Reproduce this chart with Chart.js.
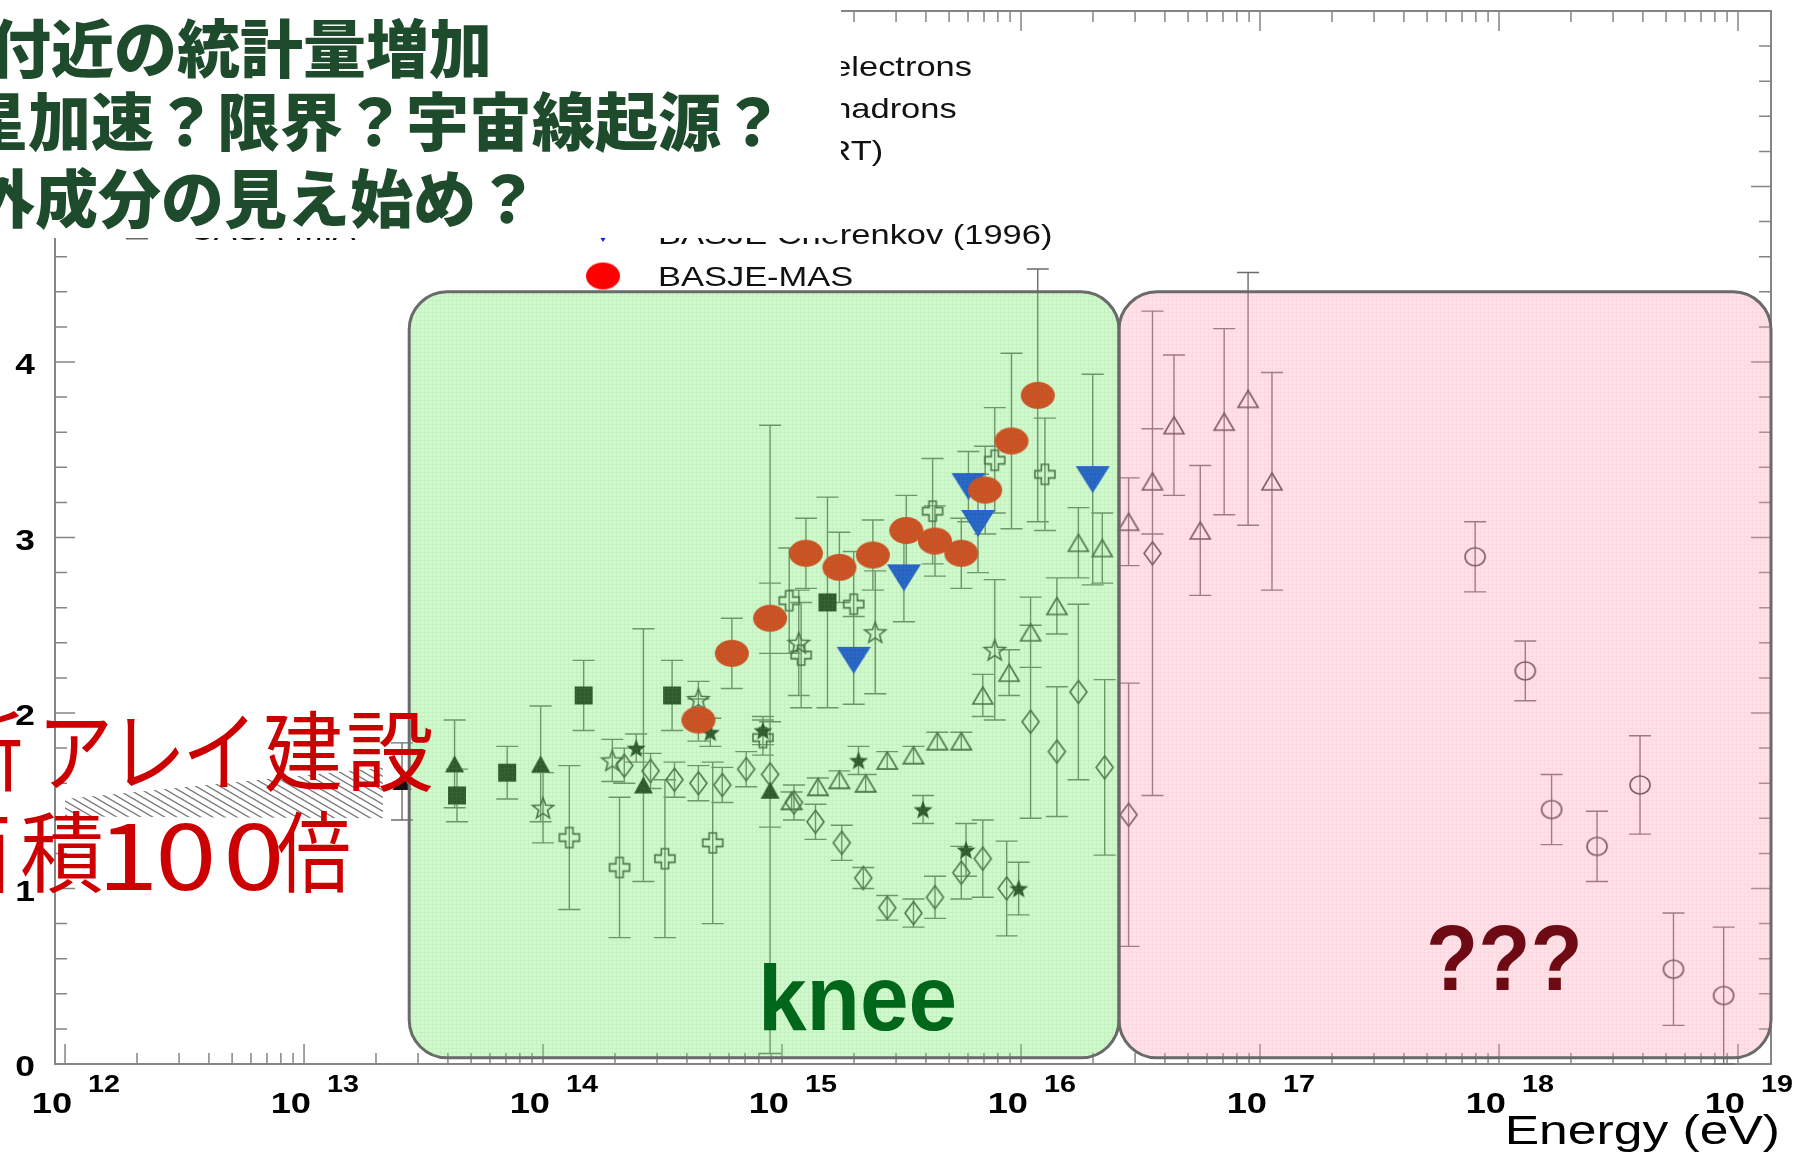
<!DOCTYPE html>
<html>
<head>
<meta charset="utf-8">
<script src="https://cdn.jsdelivr.net/npm/chart.js@4.4.1/dist/chart.umd.min.js"></script>
<style>
  html, body { margin: 0; padding: 0; background: #fff; }
  canvas { display: block; }
</style>
</head>
<body>
<canvas id="lnA" width="1794" height="1158"></canvas>
<script>
// x = log10(E / eV), y = <ln A>

// BASJE-MAS
const masE   = [14.65, 14.79, 14.95, 15.10, 15.24, 15.38, 15.52, 15.64, 15.75, 15.85, 15.96, 16.07];
const masLnA = [1.96, 2.34, 2.54, 2.91, 2.83, 2.90, 3.04, 2.98, 2.91, 3.27, 3.55, 3.81];
const masErr = [0.12, 0.2, 0.2, 0.2, 0.2, 0.2, 0.2, 0.2, 0.2, 0.25, 0.5, 0.72];

// BASJE Cherenkov (1996)
const cherE   = [15.30, 15.51, 15.78, 15.82, 16.30];
const cherLnA = [2.30, 2.77, 3.29, 3.08, 3.33];
const cherErr = [0.25, 0.25, 0.2, 0.28, 0.6];

const jaceeE   = [13.64, 13.85, 14.17, 14.54, 15.19];
const jaceeLnA = [1.53, 1.66, 2.10, 2.10, 2.63];
const jaceeErr = [0.15, 0.15, 0.2, 0.2, 0.6];

const runjobE     = [13.41, 13.63, 13.99, 14.42, 14.95];
const runjobLnA   = [1.61, 1.71, 1.71, 1.59, 1.56];
const runjobErrUp = [0.22, 0.25, 0.33, 0.89, 2.08];
const runjobErrDn = [0.22, 0.25, 0.33, 0.55, 1.5];

const diceE   = [14.11, 14.32, 14.51, 14.71, 14.92, 15.03, 15.08, 15.30, 15.63, 15.89, 16.10];
const diceLnA = [1.29, 1.12, 1.17, 1.26, 1.86, 2.64, 2.33, 2.62, 3.15, 3.44, 3.36];
const diceErr = [0.41, 0.4, 0.45, 0.46, 0.1, 0.3, 0.3, 0.3, 0.3, 0.3, 0.32];

const hegraE   = [14.00, 14.29, 14.65, 15.07, 15.39, 15.89];
const hegraLnA = [1.46, 1.73, 2.08, 2.40, 2.46, 2.36];
const hegraErr = [0.2, 0.12, 0.1, 0.3, 0.35, 0.4];

const hadE   = [14.39, 14.70, 14.92, 15.32, 15.59, 15.77, 15.99];
const hadLnA = [1.80, 1.89, 1.90, 1.73, 1.45, 1.22, 1.00];
const hadErr = [0.08, 0.08, 0.08, 0.08, 0.08, 0.15, 0.15];

const eleE   = [14.34, 14.45, 14.55, 14.65, 14.75, 14.85, 14.95, 15.05, 15.14, 15.25, 15.34, 15.44,
                15.55, 15.64, 15.75, 15.84, 15.94, 16.04, 16.15, 16.24, 16.35, 16.45, 16.55];
const eleLnA = [1.70, 1.67, 1.62, 1.60, 1.59, 1.68, 1.65, 1.49, 1.38, 1.26, 1.06, 0.89,
                0.86, 0.95, 1.09, 1.17, 1.00, 1.95, 1.78, 2.12, 1.69, 1.42, 2.91];
const eleErr = [0.1, 0.1, 0.1, 0.1, 0.1, 0.1, 0.3, 0.1, 0.1, 0.1, 0.06, 0.07,
                0.08, 0.12, 0.15, 0.22, 0.27, 0.55, 0.37, 0.5, 0.5, 0.75, 1.38];

const casaE   = [15.04, 15.15, 15.24, 15.35, 15.44, 15.55, 15.65, 15.75, 15.84, 15.95, 16.04,
                 16.15, 16.24, 16.34, 16.45, 16.55, 16.64, 16.75, 16.85, 16.95, 17.05];
const casaLnA = [1.50, 1.58, 1.62, 1.60, 1.73, 1.76, 1.84, 1.84, 2.10, 2.23, 2.46,
                 2.61, 2.97, 2.94, 3.09, 3.32, 3.64, 3.04, 3.66, 3.79, 3.32];
const casaErr = [0.05, 0.05, 0.05, 0.05, 0.05, 0.05, 0.05, 0.05, 0.12, 0.13, 0.2,
                 0.16, 0.2, 0.2, 0.25, 0.3, 0.4, 0.37, 0.53, 0.72, 0.62];

const flysE   = [17.90, 18.11, 18.22, 18.41, 18.59, 18.73, 18.94];
const flysLnA = [2.89, 2.24, 1.45, 1.24, 1.59, 0.54, 0.39];
const flysErr = [0.2, 0.17, 0.2, 0.2, 0.28, 0.32, 0.39];

// direct measurements band
const bandE  = [12.0, 13.33];
const bandHi = [1.51, 1.69];
const bandLo = [1.41, 1.40];

const decades = [12, 13, 14, 15, 16, 17, 18, 19];
const lnATicks = [0, 1, 2, 3, 4, 5, 6];

function pts(xs, ys) { return xs.map((x, i) => ({ x, y: ys[i] })); }

// ---- marker images ----
function mk(w, h, paint) {
  const c = document.createElement('canvas');
  c.width = w + 4; c.height = h + 4;
  const g = c.getContext('2d');
  g.translate(2, 2);
  g.lineWidth = 1.6;
  g.strokeStyle = '#3c3c3c';
  g.fillStyle = '#111';
  paint(g, w, h);
  return c;
}
function poly(g, p) {
  g.beginPath();
  g.moveTo(p[0][0], p[0][1]);
  for (let i = 1; i < p.length; i++) g.lineTo(p[i][0], p[i][1]);
  g.closePath();
}
function starPts(w, h) {
  const p = [];
  for (let k = 0; k < 10; k++) {
    const a = (-90 + 36 * k) * Math.PI / 180, r = k % 2 ? 0.42 : 1;
    p.push([w / 2 + r * w / 2 * Math.cos(a), h * 0.55 + r * h * 0.55 * Math.sin(a)]);
  }
  return p;
}
function crossPts(w, h) {
  const t = w * 0.36, l = (w - t) / 2;
  return [[l, 0], [l + t, 0], [l + t, l], [w, l], [w, l + t], [l + t, l + t], [l + t, h],
          [l, h], [l, l + t], [0, l + t], [0, l], [l, l]];
}

const mRed = mk(34, 27, (g, w, h) => {
  g.fillStyle = '#ff0000';
  g.beginPath(); g.ellipse(w / 2, h / 2, w / 2, h / 2, 0, 0, Math.PI * 2); g.fill();
});
const mBlue = mk(34, 27, (g, w, h) => { g.fillStyle = '#0020ff'; poly(g, [[0, 0], [w, 0], [w / 2, h]]); g.fill(); });
const mBlueSmall = mk(20, 16, (g, w, h) => { g.fillStyle = '#0020ff'; poly(g, [[0, 0], [w, 0], [w / 2, h]]); g.fill(); });
const mSquare = mk(18, 18, (g, w, h) => { g.fillRect(0, 0, w, h); });
const mTriFill = mk(19, 17, (g, w, h) => { poly(g, [[w / 2, 0], [w, h], [0, h]]); g.fill(); });
const mStarFill = mk(20, 18, (g, w, h) => { poly(g, starPts(w, h)); g.fill(); });
const mStarOpen = mk(22, 20, (g, w, h) => { poly(g, starPts(w, h)); g.stroke(); });
const mCross = mk(20, 20, (g, w, h) => { poly(g, crossPts(w, h)); g.stroke(); });
const mDiamond = mk(17, 23, (g, w, h) => { poly(g, [[w / 2, 0], [w, h / 2], [w / 2, h], [0, h / 2]]); g.stroke(); });
const mTriOpen = mk(20, 17, (g, w, h) => { poly(g, [[w / 2, 0], [w, h], [0, h]]); g.stroke(); });
const mCircle = mk(20, 18, (g, w, h) => {
  g.beginPath(); g.ellipse(w / 2, h / 2, w / 2, h / 2, 0, 0, Math.PI * 2); g.stroke();
});

function series(label, xs, ys, up, dn, style) {
  return { label, data: pts(xs, ys), errUp: up, errDn: dn || up, pointStyle: style,
           pointRadius: 6, showLine: false };
}

function hatch() {
  const c = document.createElement('canvas');
  c.width = 12; c.height = 7;
  const g = c.getContext('2d');
  g.strokeStyle = '#7a7a7a'; g.lineWidth = 1.4;
  g.beginPath();
  g.moveTo(-12, -7); g.lineTo(24, 14);
  g.moveTo(-12, 0); g.lineTo(12, 14);
  g.moveTo(0, -7); g.lineTo(24, 7);
  g.stroke();
  return document.getElementById('lnA').getContext('2d').createPattern(c, 'repeat');
}

const datasets = [
  series('BASJE-MAS', masE, masLnA, masErr, null, mRed),
  series('BASJE Cherenkov (1996)', cherE, cherLnA, cherErr, null, mBlue),
  series('JACEE', jaceeE, jaceeLnA, jaceeErr, null, mSquare),
  series('RUNJOB', runjobE, runjobLnA, runjobErrUp, runjobErrDn, mTriFill),
  series('KASCADE hadrons', hadE, hadLnA, hadErr, null, mStarFill),
  series('HEGRA (CRT)', hegraE, hegraLnA, hegraErr, null, mStarOpen),
  series('DICE', diceE, diceLnA, diceErr, null, mCross),
  series('KASCADE electrons', eleE, eleLnA, eleErr, null, mDiamond),
  series('CASA-MIA', casaE, casaLnA, casaErr, null, mTriOpen),
  series("Fly's Eye", flysE, flysLnA, flysErr, null, mCircle),
  { type: 'line', label: 'direct', data: pts(bandE, bandHi), fill: '+1', backgroundColor: hatch(),
    borderWidth: 0, pointRadius: 0 },
  { type: 'line', label: 'direct low', data: pts(bandE, bandLo), fill: false,
    borderWidth: 0, pointRadius: 0 }
];

// legend columns, top row first
const legendRight = ['KASCADE electrons', 'KASCADE hadrons', 'HEGRA (CRT)', 'DICE', 'BASJE Cherenkov (1996)', 'BASJE-MAS'];
const legendLeft = [null, 'JACEE', 'RUNJOB', "Fly's Eye", 'CASA-MIA'];

const SANS = '"Liberation Sans", Arial, sans-serif';
const CJK = '"Noto Sans CJK JP", sans-serif';

function stretched(ctx, txt, x, y, font, sx, align) {
  ctx.save();
  ctx.font = font;
  ctx.textAlign = align || 'left';
  ctx.textBaseline = 'alphabetic';
  ctx.translate(x, y);
  ctx.scale(sx, 1);
  ctx.fillText(txt, 0, 0);
  ctx.restore();
}

const paper = {
  id: 'paper',
  beforeDraw(chart) {
    const { ctx, width, height } = chart;
    ctx.save();
    ctx.fillStyle = '#fff';
    ctx.fillRect(0, 0, width, height);
    ctx.restore();
  }
};

const frame = {
  id: 'frame',
  beforeDatasetsDraw(chart) {
    const { ctx, chartArea: a, scales: { x, y } } = chart;
    ctx.save();
    ctx.strokeStyle = '#858585';
    ctx.lineWidth = 2;
    ctx.strokeRect(a.left, a.top, a.right - a.left, a.bottom - a.top);
    ctx.lineWidth = 1.5;
    ctx.beginPath();
    decades.forEach(n => {
      for (let k = 1; k <= 9; k++) {
        const v = n + Math.log10(k);
        if (v > x.max) break;
        const px = x.getPixelForValue(v), len = k === 1 ? 20 : 11;
        ctx.moveTo(px, a.bottom); ctx.lineTo(px, a.bottom - len);
        ctx.moveTo(px, a.top); ctx.lineTo(px, a.top + len);
      }
    });
    for (let i = 0; i <= 30; i++) {
      const py = y.getPixelForValue(i / 5), len = i % 5 ? 12 : 20;
      ctx.moveTo(a.left, py); ctx.lineTo(a.left + len, py);
      ctx.moveTo(a.right, py); ctx.lineTo(a.right - len, py);
    }
    ctx.stroke();
    ctx.restore();
  }
};

const errorBars = {
  id: 'errorBars',
  beforeDatasetsDraw(chart) {
    const { ctx, scales: { y } } = chart;
    ctx.save();
    ctx.strokeStyle = '#6c6c6c';
    ctx.lineWidth = 1.4;
    ctx.beginPath();
    chart.data.datasets.forEach((ds, i) => {
      if (!ds.errUp) return;
      chart.getDatasetMeta(i).data.forEach((el, j) => {
        const v = ds.data[j].y;
        const top = y.getPixelForValue(Math.min(v + ds.errUp[j], 6));
        const bot = y.getPixelForValue(Math.max(v - ds.errDn[j], 0));
        ctx.moveTo(el.x, top); ctx.lineTo(el.x, bot);
        ctx.moveTo(el.x - 11, top); ctx.lineTo(el.x + 11, top);
        ctx.moveTo(el.x - 11, bot); ctx.lineTo(el.x + 11, bot);
      });
    });
    ctx.stroke();
    ctx.restore();
  }
};

function mesh(ctx, base, line) {
  const c = document.createElement('canvas');
  c.width = 4; c.height = 4;
  const g = c.getContext('2d');
  g.fillStyle = base; g.fillRect(0, 0, 4, 4);
  g.fillStyle = line; g.fillRect(0, 0, 4, 1); g.fillRect(0, 1, 1, 3);
  return ctx.createPattern(c, 'repeat');
}

const regions = {
  id: 'regions',
  afterDatasetsDraw(chart) {
    const { ctx, scales: { x, y } } = chart;
    const boxes = [
      { from: 13.44, to: 16.41, fill: mesh(ctx, 'rgba(120,232,110,0.33)', 'rgba(70,200,60,0.10)') },
      { from: 16.41, to: x.max, fill: mesh(ctx, 'rgba(255,165,185,0.32)', 'rgba(230,120,140,0.08)') }
    ];
    const top = y.getPixelForValue(4.40), bot = y.getPixelForValue(0.035);
    ctx.save();
    boxes.forEach(b => {
      const l = x.getPixelForValue(b.from), r = x.getPixelForValue(b.to);
      ctx.beginPath();
      ctx.roundRect(l, top, r - l, bot - top, 38);
      ctx.fillStyle = b.fill;
      ctx.fill();
      ctx.strokeStyle = '#6a6a6a';
      ctx.lineWidth = 3;
      ctx.stroke();
    });
    ctx.restore();

    // legend
    const byLabel = {};
    chart.data.datasets.forEach(ds => { byLabel[ds.label] = ds; });
    ctx.save();
    ctx.fillStyle = '#111';
    const draw = (list, mx, tx, y0) => list.forEach((lab, i) => {
      if (!lab) return;
      const base = y0 + 42 * i;
      let img = byLabel[lab].pointStyle;
      if (img === mBlue) img = mBlueSmall;
      ctx.drawImage(img, mx - img.width / 2, base - 10 - img.height / 2);
      stretched(ctx, lab, tx, base, '28px ' + SANS, 1.23);
    });
    draw(legendRight, 603, 658, 76);
    draw(legendLeft, 137, 189, 72);
    ctx.restore();
  }
};

const notes = {
  id: 'notes',
  afterDraw(chart) {
    const { ctx, scales: { x, y } } = chart;
    ctx.save();

    // axis labels
    ctx.fillStyle = '#000';
    lnATicks.forEach(v => {
      stretched(ctx, String(v), 25, y.getPixelForValue(v) + 12, 'bold 29px ' + SANS, 1.22, 'center');
    });
    decades.forEach(n => {
      const px = x.getPixelForValue(n);
      stretched(ctx, '10', px + 7, 1113, 'bold 29px ' + SANS, 1.25, 'right');
      stretched(ctx, String(n), px + 23, 1092, 'bold 23px ' + SANS, 1.25, 'left');
    });
    stretched(ctx, 'Energy (eV)', 1780, 1144, '40px ' + SANS, 1.29, 'right');

    // panel with questions
    ctx.fillStyle = '#fff';
    ctx.fillRect(0, 0, 841, 238);
    ctx.fillStyle = '#1d4b2c';
    ctx.font = '900 63px ' + CJK;
    ctx.textAlign = 'left';
    ctx.textBaseline = 'alphabetic';
    ctx.fillText('付近の統計量増加', -12, 72);
    ctx.fillText('星加速？限界？宇宙線起源？', -35, 145);
    ctx.fillText('外成分の見え始め？', -28, 222);

    // new array note, glyphs placed one by one
    ctx.fillStyle = '#cc0000';
    const red = '88px ' + CJK;
    [['新', -17, 0.92], ['ア', 75, 0.86], ['レ', 148, 0.86], ['イ', 220, 0.86], ['建', 303, 0.9], ['設', 390, 1.0]]
      .forEach(([c, cx, sx]) => stretched(ctx, c, cx, 784, red, sx, 'center'));
    [['面', -30, 0.95], ['積', 62, 0.95], ['倍', 314, 0.84]]
      .forEach(([c, cx, sx]) => stretched(ctx, c, cx, 885, red, sx, 'center'));
    [['1', 128], ['0', 186], ['0', 254]].forEach(([c, cx]) => {
      stretched(ctx, c, cx, 890, '92px ' + CJK, 1.2, 'center');
    });

    ctx.fillStyle = '#00661a';
    stretched(ctx, 'knee', 758, 1030, 'bold 92px ' + SANS, 0.95);
    ctx.fillStyle = '#6e0a14';
    stretched(ctx, '???', 1426, 990, 'bold 92px ' + SANS, 0.93);
    ctx.restore();
  }
};

new Chart(document.getElementById('lnA'), {
  type: 'scatter',
  data: { datasets },
  options: {
    responsive: false,
    animation: false,
    devicePixelRatio: 1,
    layout: { padding: { left: 55, right: 23, top: 11, bottom: 94 } },
    scales: {
      x: { type: 'linear', min: 11.958, max: 19.138, display: false },
      y: { type: 'linear', min: 0, max: 6, display: false }
    },
    plugins: { legend: { display: false }, tooltip: { enabled: false } }
  },
  plugins: [paper, frame, errorBars, regions, notes]
});
</script>
</body>
</html>
